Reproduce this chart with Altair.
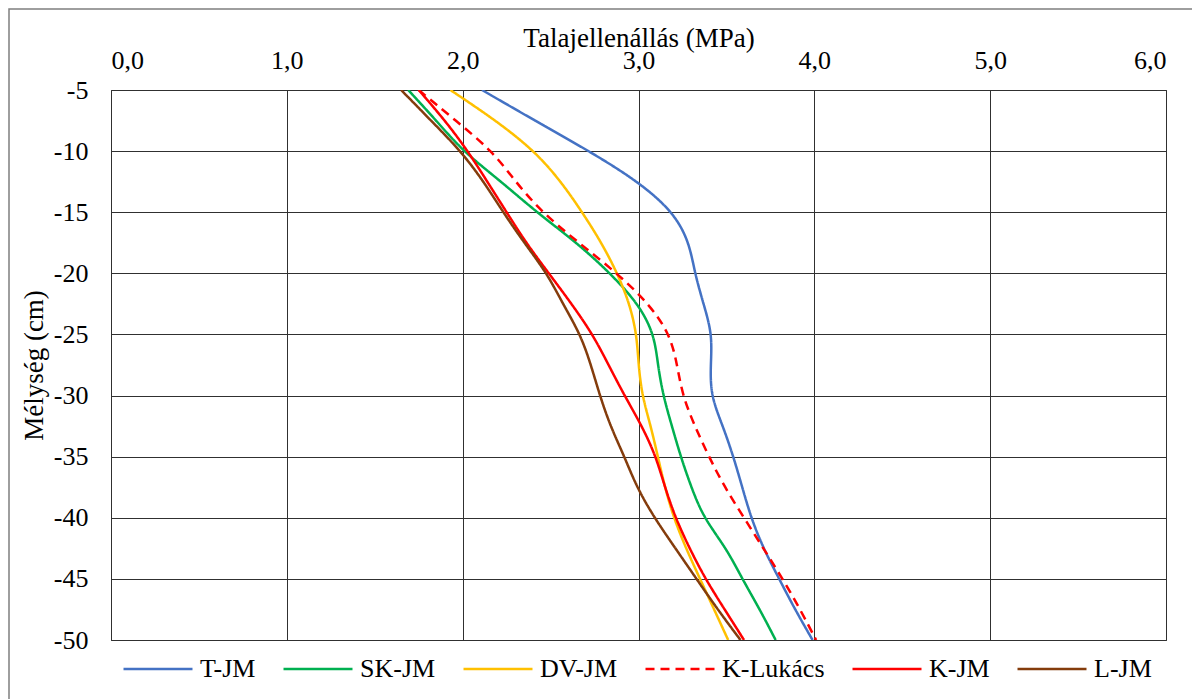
import altair as alt
import pandas as pd

depth = [-5, -7.5, -10, -12.5, -15, -17.5, -20, -22.5, -25, -27.5, -30,
         -32.5, -35, -37.5, -40, -42.5, -45, -47.5, -50]

t_jm = [2.11, 2.41, 2.72, 3.00, 3.20, 3.29, 3.32, 3.37, 3.42, 3.41, 3.41,
        3.48, 3.54, 3.59, 3.64, 3.71, 3.80, 3.89, 3.99]
sk_jm = [1.69, 1.85, 2.00, 2.22, 2.42, 2.65, 2.84, 3.00, 3.09, 3.11, 3.14,
         3.19, 3.24, 3.30, 3.37, 3.50, 3.59, 3.69, 3.78]
dv_jm = [1.93, 2.19, 2.41, 2.56, 2.68, 2.79, 2.88, 2.95, 2.99, 3.00, 3.02,
         3.07, 3.11, 3.15, 3.20, 3.27, 3.35, 3.43, 3.51]
k_lukacs = [1.75, 1.96, 2.17, 2.30, 2.45, 2.66, 2.88, 3.06, 3.18, 3.22, 3.25,
            3.32, 3.40, 3.49, 3.60, 3.71, 3.82, 3.92, 4.01]
k_jm = [1.75, 1.90, 2.03, 2.14, 2.25, 2.36, 2.49, 2.62, 2.74, 2.83, 2.92,
        3.02, 3.10, 3.15, 3.21, 3.29, 3.38, 3.49, 3.60]
l_jm = [1.65, 1.82, 1.99, 2.12, 2.23, 2.35, 2.48, 2.57, 2.67, 2.73, 2.78,
        2.84, 2.92, 2.99, 3.09, 3.21, 3.33, 3.45, 3.58]

series_names = ["T-JM", "SK-JM", "DV-JM", "K-Lukács", "K-JM", "L-JM"]
series_values = [t_jm, sk_jm, dv_jm, k_lukacs, k_jm, l_jm]
colors = ["#4472C4", "#00B050", "#FFC000", "#FF0000", "#FF0000", "#843C0C"]
dashes = [[1, 0], [1, 0], [1, 0], [9, 6], [1, 0], [1, 0]]

x_ticks = [0, 1, 2, 3, 4, 5, 6]
y_ticks = [-5, -10, -15, -20, -25, -30, -35, -40, -45, -50]

rows = []
for name, vals in zip(series_names, series_values):
    for i, (d, v) in enumerate(zip(depth, vals)):
        rows.append({"series": name, "depth": d, "mpa": v, "ord": i})
df = pd.DataFrame(rows)

FONT = "'Times New Roman', 'Liberation Serif', serif"

legend = alt.Legend(
    title=None, orient="none", legendX=11, legendY=543, direction="horizontal",
    columns=6, symbolType="stroke", symbolSize=4761, symbolStrokeWidth=2.5,
    labelFont=FONT, labelFontSize=26, labelColor="#000000", labelOffset=6,
    columnPadding=22, labelLimit=300,
)

lines = alt.Chart(df).mark_line(strokeWidth=2.5, interpolate="basis", clip=True).encode(
    x=alt.X("mpa:Q",
            scale=alt.Scale(domain=[0, 6], nice=False, zero=False),
            axis=alt.Axis(orient="top", values=x_ticks, title="Talajellenállás (MPa)",
                          labelExpr="replace(format(datum.value, '.1f'), '.', ',')",
                          labelPadding=16.5, titlePadding=-5)),
    y=alt.Y("depth:Q",
            scale=alt.Scale(domain=[-50, -5], nice=False, zero=False),
            axis=alt.Axis(values=y_ticks, title="Mélység (cm)",
                          labelExpr="'' + datum.value",
                          labelPadding=23, titlePadding=5)),
    color=alt.Color("series:N", scale=alt.Scale(domain=series_names, range=colors),
                    sort=series_names, legend=legend),
    strokeDash=alt.StrokeDash("series:N", scale=alt.Scale(domain=series_names, range=dashes),
                              sort=series_names, legend=legend),
    order="ord:Q",
)

border = alt.Chart(pd.DataFrame({"a": [0]})).mark_rect(
    fillOpacity=0, stroke="#7f7f7f", strokeWidth=1.5, clip=False
).encode(x=alt.value(-102), x2=alt.value(1300), y=alt.value(-81), y2=alt.value(900))

chart = alt.layer(border, lines).properties(
    width=1055, height=550,
    padding={"left": 103, "top": 82, "right": 26, "bottom": 59},
    autosize=alt.AutoSizeParams(type="none"),
    background="#ffffff",
).configure_view(
    stroke="#303030", strokeWidth=1
).configure_axis(
    labelFont=FONT, labelFontSize=26, labelColor="#000000",
    titleFont=FONT, titleFontSize=27, titleFontWeight="normal", titleColor="#000000",
    grid=True, gridColor="#303030", gridWidth=1, gridOpacity=1,
    domain=False, ticks=False, tickSize=0,
)

chart.save("out.html", embed_options={"renderer": "svg", "actions": False})
